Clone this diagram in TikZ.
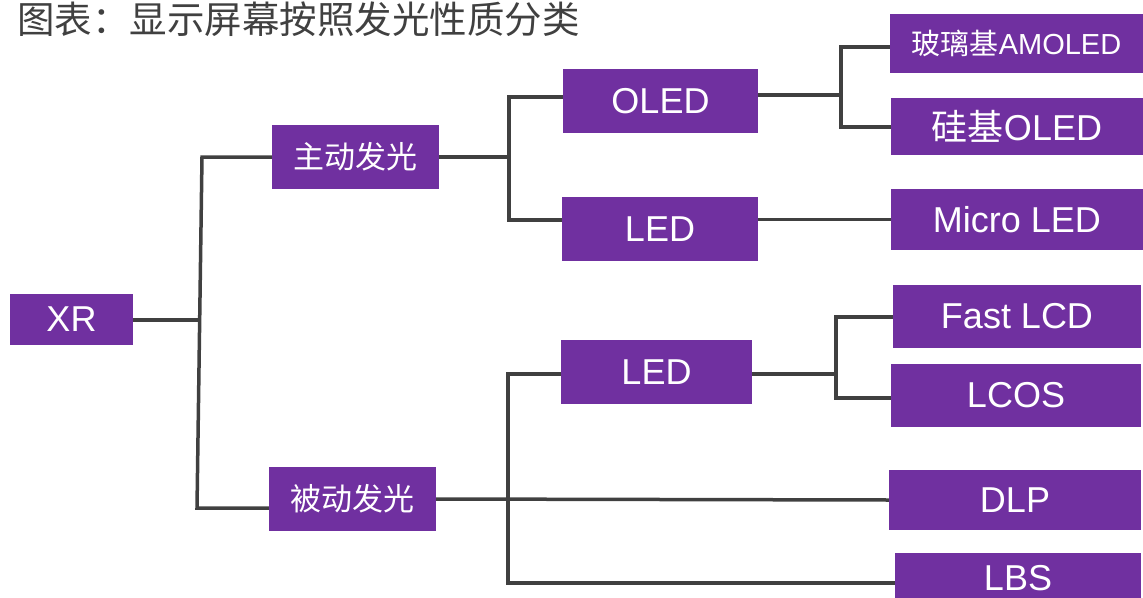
\documentclass[tikz,border=0pt]{standalone}
\usepackage{fontspec}
\setmainfont{Liberation Sans}
\newfontfamily\cjk{Noto Sans CJK SC}
\definecolor{boxpurple}{HTML}{7030A0}
\definecolor{linegray}{HTML}{404040}
\definecolor{titlegray}{HTML}{404040}
\tikzset{
  box/.style={fill=boxpurple, draw=none, text=white, inner sep=0pt, align=center,
    font=\fontsize{36}{40}\selectfont},
  cjkbox/.style={box, font=\cjk\fontsize{31}{36}\selectfont},
  conn/.style={draw=linegray, line width=3.5pt},
}
\begin{document}
\begin{tikzpicture}[x=1pt,y=-1pt]
\useasboundingbox (0,0) rectangle (1143,597);
\clip (0,0) rectangle (1143,597);
% title
\node[anchor=west, inner sep=0pt, text=titlegray, font=\cjk\fontsize{37.5}{40}\selectfont] (title) at (17,19) {图表：显示屏幕按照发光性质分类};
% boxes
\node[box, minimum width=123pt, minimum height=51pt] (xr) at (71.5,319.5) {XR};
\node[cjkbox, minimum width=167pt, minimum height=64pt] (zd) at (355.5,157) {主动发光};
\node[cjkbox, minimum width=167pt, minimum height=64pt] (bd) at (352.5,499) {被动发光};
\node[box, minimum width=195pt, minimum height=64pt] (oled) at (660.5,101) {OLED};
\node[box, minimum width=196pt, minimum height=64pt] (led1) at (660,229) {LED};
\node[box, minimum width=191pt, minimum height=64pt] (led2) at (656.5,372) {LED};
\node[box, minimum width=253pt, minimum height=59pt, font=\fontsize{29}{34}\selectfont] (amoled) at (1016.5,43.5) {{\cjk 玻璃基}AMOLED};
\node[box, minimum width=252pt, minimum height=57pt] (si) at (1017,126.5) {{\cjk 硅基}OLED};
\node[box, minimum width=252pt, minimum height=61pt] (micro) at (1017,219.5) {Micro LED};
\node[box, minimum width=248pt, minimum height=63pt] (fast) at (1017,316.5) {Fast LCD};
\node[box, minimum width=250pt, minimum height=63pt] (lcos) at (1016,395.5) {LCOS};
\node[box, minimum width=252pt, minimum height=60pt] (dlp) at (1015,500) {DLP};
\node[box, minimum width=246pt, minimum height=50pt] (lbs) at (1018,578) {LBS};
% junction coordinates
\coordinate (j1t) at (202,157);
\coordinate (j1b) at (197,508);
\coordinate (j1m) at (199.5,320);
\coordinate (j2t) at (509,97);
\coordinate (j2b) at (509,220);
\coordinate (j2m) at (509,157);
\coordinate (j3t) at (841,47);
\coordinate (j3b) at (841,127);
\coordinate (j3m) at (841,95);
\coordinate (j4t) at (836,317);
\coordinate (j4b) at (836,398);
\coordinate (j4m) at (836,374);
\coordinate (j5t) at (508,374);
\coordinate (j5b) at (508,583);
% connectors
\draw[conn] (xr.east |- j1m) -- (j1m);
\draw[conn] (zd.west |- j1t) -- (j1t) -- (j1b) -- (bd.west |- j1b);
\draw[conn] (zd.east) -- (j2m);
\draw[conn] (oled.west |- j2t) -- (j2t) -- (j2b) -- (led1.west |- j2b);
\draw[conn] (oled.east |- j3m) -- (j3m);
\draw[conn] (amoled.west |- j3t) -- (j3t) -- (j3b) -- (si.west |- j3b);
\draw[conn] (led1.east |- micro.west) -- (micro.west);
\draw[conn] (led2.east |- j4m) -- (j4m);
\draw[conn] (fast.west |- j4t) -- (j4t) -- (j4b) -- (lcos.west |- j4b);
\draw[conn] (bd.east) -- (dlp.west);
\draw[conn] (led2.west |- j5t) -- (j5t) -- (j5b) -- (lbs.west |- j5b);
\end{tikzpicture}
\end{document}
